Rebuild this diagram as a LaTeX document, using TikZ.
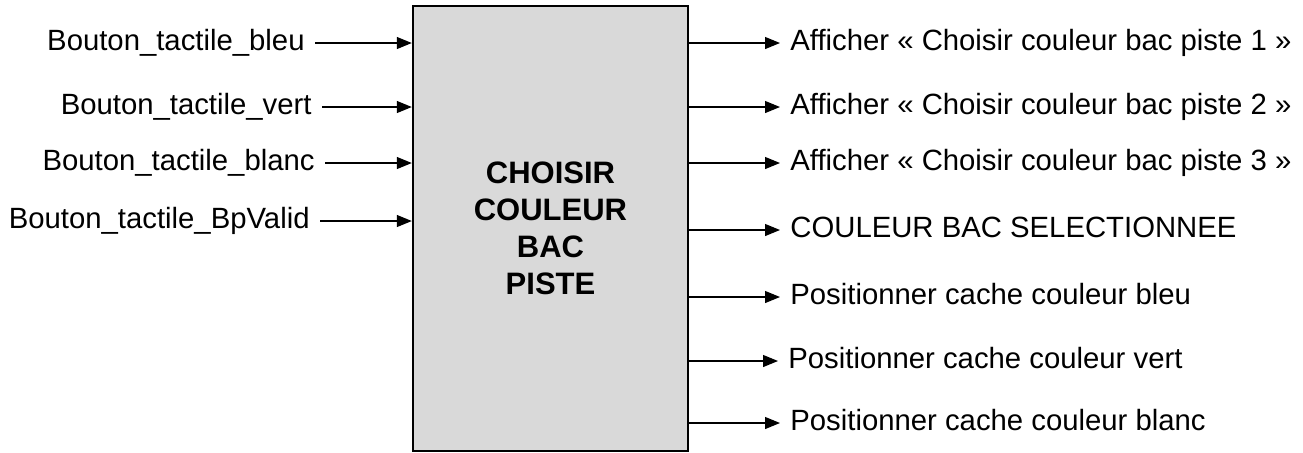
\documentclass[tikz,border=0pt]{standalone}
\usepackage{fontspec}
\setmainfont{Liberation Sans}
\usetikzlibrary{arrows.meta}
\definecolor{blocgray}{HTML}{D9D9D9}

\begin{document}
\begin{tikzpicture}[x=0.5pt,y=-0.5pt,font=\fontsize{14.65}{17.6}\selectfont]

  \tikzstyle{bloc}=[draw,line width=1.2pt,fill=blocgray,minimum width=137.5pt,minimum height=222.5pt,align=center,font=\fontsize{15.5}{18.5}\selectfont\bfseries]
  \tikzstyle{inlabel}=[anchor=east,inner xsep=5pt,inner ysep=0pt,text height=0.72em,text depth=0pt]
  \tikzstyle{outlabel}=[anchor=west,inner xsep=5pt,inner ysep=0pt,text height=0.72em,text depth=0pt]
  \tikzstyle{flow}=[line width=0.6pt,-{Triangle[length=7.5pt,width=6pt]}]

  \useasboundingbox (0,0) rectangle (1303,452);

  \path
  (550.5,228.5) node[bloc](bloc){CHOISIR\\COULEUR\\BAC\\PISTE};

  \path
  (315,43) node[inlabel](bleu){Bouton\_tactile\_bleu}
  (322,107) node[inlabel](vert){Bouton\_tactile\_vert}
  (325,163) node[inlabel](blanc){Bouton\_tactile\_blanc}
  (320,221) node[inlabel](valid){Bouton\_tactile\_BpValid};

  \path
  (780,43) node[outlabel](piste1){Afficher « Choisir couleur bac piste 1 »}
  (780,107) node[outlabel](piste2){Afficher « Choisir couleur bac piste 2 »}
  (780,163) node[outlabel](piste3){Afficher « Choisir couleur bac piste 3 »}
  (780,230) node[outlabel](select){COULEUR BAC SELECTIONNEE}
  (780,297) node[outlabel](cbleu){Positionner cache couleur bleu}
  (778,361) node[outlabel](cvert){Positionner cache couleur vert}
  (780,423) node[outlabel](cblanc){Positionner cache couleur blanc};

  % entrees
  \draw[flow] (bleu.east)--(bleu.east -| bloc.west);
  \draw[flow] (vert.east)--(vert.east -| bloc.west);
  \draw[flow] (blanc.east)--(blanc.east -| bloc.west);
  \draw[flow] (valid.east)--(valid.east -| bloc.west);

  % sorties
  \draw[flow] (bloc.east |- piste1.west)--(piste1.west);
  \draw[flow] (bloc.east |- piste2.west)--(piste2.west);
  \draw[flow] (bloc.east |- piste3.west)--(piste3.west);
  \draw[flow] (bloc.east |- select.west)--(select.west);
  \draw[flow] (bloc.east |- cbleu.west)--(cbleu.west);
  \draw[flow] (bloc.east |- cvert.west)--(cvert.west);
  \draw[flow] (bloc.east |- cblanc.west)--(cblanc.west);
\end{tikzpicture}
\end{document}
